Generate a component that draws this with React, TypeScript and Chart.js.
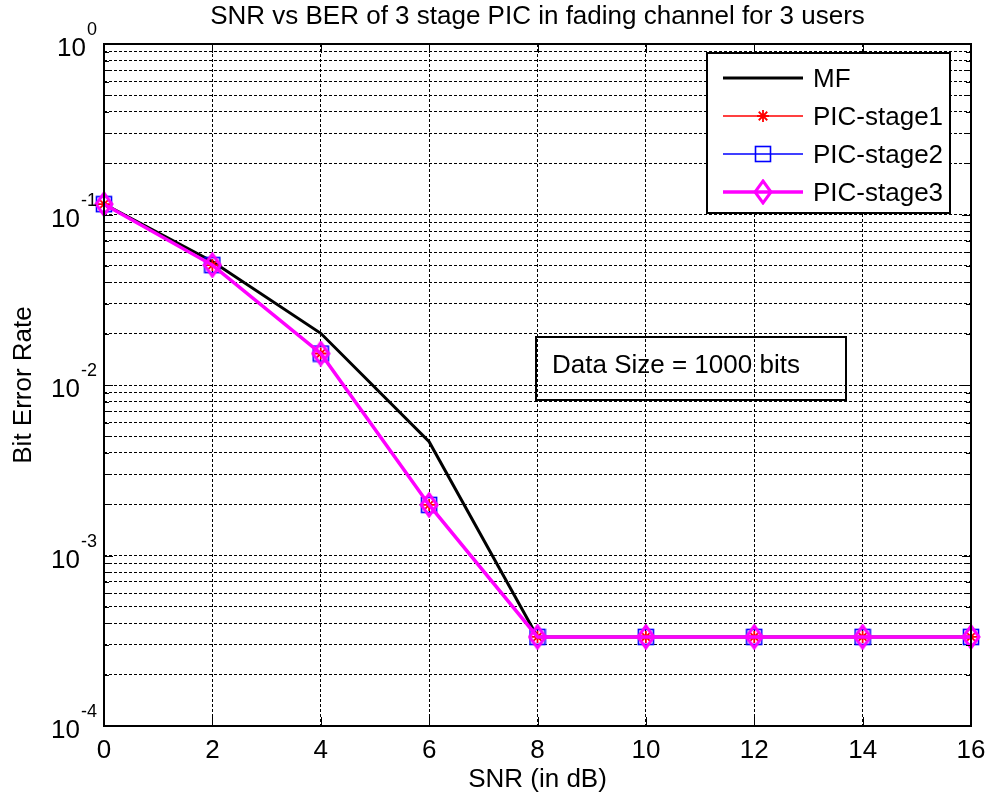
import React, { useEffect, useRef } from "react";
import { Chart, registerables } from "chart.js";

Chart.register(...registerables);

// ---------------- data ----------------
const snrDb = [0, 2, 4, 6, 8, 10, 12, 14, 16];
const berMF = [0.115, 0.053, 0.0201, 0.00465, 0.000333, 0.000333, 0.000333, 0.000333, 0.000333];
const berPIC1 = [0.115, 0.0505, 0.0153, 0.00198, 0.000333, 0.000333, 0.000333, 0.000333, 0.000333];
const berPIC2 = [0.115, 0.0505, 0.0153, 0.00198, 0.000333, 0.000333, 0.000333, 0.000333, 0.000333];
const berPIC3 = [0.115, 0.0505, 0.0153, 0.00198, 0.000333, 0.000333, 0.000333, 0.000333, 0.000333];
const seriesNames = ["MF", "PIC-stage1", "PIC-stage2", "PIC-stage3"];
const xTickValues = [0, 2, 4, 6, 8, 10, 12, 14, 16];
const yDecadeExponents = [-4, -3, -2, -1, 0];
const titleText = "SNR vs BER of 3 stage PIC in fading channel for 3 users";
const xLabelText = "SNR (in dB)";
const yLabelText = "Bit Error Rate";
const noteText = "Data Size = 1000 bits";

const FONT = "'Liberation Sans', Arial, sans-serif";

function makeSquare(): HTMLCanvasElement {
  const c = document.createElement("canvas");
  c.width = 18;
  c.height = 18;
  const g = c.getContext("2d")!;
  g.strokeStyle = "#0000ff";
  g.lineWidth = 1.6;
  g.strokeRect(1.5, 1.5, 15, 15);
  return c;
}

function makeDiamond(): HTMLCanvasElement {
  const c = document.createElement("canvas");
  c.width = 20;
  c.height = 26;
  const g = c.getContext("2d")!;
  g.strokeStyle = "#ff00ff";
  g.lineWidth = 3;
  g.beginPath();
  g.moveTo(10, 2);
  g.lineTo(18, 13);
  g.lineTo(10, 24);
  g.lineTo(2, 13);
  g.closePath();
  g.stroke();
  return c;
}

function drawStar(ctx: CanvasRenderingContext2D, x: number, y: number, r: number) {
  ctx.save();
  ctx.strokeStyle = "#ff0000";
  ctx.lineWidth = 1.8;
  ctx.beginPath();
  ctx.moveTo(x - r, y);
  ctx.lineTo(x + r, y);
  ctx.moveTo(x, y - r);
  ctx.lineTo(x, y + r);
  const d = r * Math.SQRT1_2;
  ctx.moveTo(x - d, y - d);
  ctx.lineTo(x + d, y + d);
  ctx.moveTo(x - d, y + d);
  ctx.lineTo(x + d, y - d);
  ctx.stroke();
  ctx.restore();
}

export default function App() {
  const ref = useRef<HTMLCanvasElement | null>(null);

  useEffect(() => {
    if (!ref.current) return;
    const square = makeSquare();
    const diamond = makeDiamond();

    const yTicks: number[] = [];
    for (let e = -4; e < 0; e++) {
      for (let s = 1; s <= 9; s++) yTicks.push(s * Math.pow(10, e));
    }
    yTicks.push(1);

    const decorations = {
      id: "decorations",
      afterDraw(chart: any) {
        const ctx: CanvasRenderingContext2D = chart.ctx;
        const a = chart.chartArea;
        const xs = chart.scales.x;
        const ys = chart.scales.y;
        ctx.save();
        ctx.strokeStyle = "#000";
        ctx.fillStyle = "#000";

        // tick marks (inside)
        ctx.lineWidth = 1;
        ctx.beginPath();
        xTickValues.forEach((v) => {
          const px = Math.round(xs.getPixelForValue(v)) + 0.5;
          ctx.moveTo(px, a.bottom);
          ctx.lineTo(px, a.bottom - 9);
          ctx.moveTo(px, a.top);
          ctx.lineTo(px, a.top + 9);
        });
        yTicks.forEach((v) => {
          const py = Math.round(ys.getPixelForValue(v)) + 0.5;
          const major = Math.abs(Math.log10(v) - Math.round(Math.log10(v))) < 1e-9;
          const len = major ? 9 : 5;
          ctx.moveTo(a.left, py);
          ctx.lineTo(a.left + len, py);
          ctx.moveTo(a.right, py);
          ctx.lineTo(a.right - len, py);
        });
        ctx.stroke();

        // axes box
        ctx.lineWidth = 2;
        ctx.strokeRect(a.left, a.top, a.right - a.left, a.bottom - a.top);

        // x tick labels
        ctx.font = `26px ${FONT}`;
        ctx.textAlign = "center";
        ctx.textBaseline = "alphabetic";
        xTickValues.forEach((v) => {
          ctx.fillText(String(v), xs.getPixelForValue(v), 758);
        });

        // y tick labels 10^k
        yDecadeExponents.forEach((e) => {
          const py = ys.getPixelForValue(Math.pow(10, e));
          ctx.font = `18px ${FONT}`;
          const sup = String(e);
          const supW = ctx.measureText(sup).width;
          ctx.textAlign = "left";
          ctx.fillText(sup, 97 - supW, py - 9);
          ctx.font = `26px ${FONT}`;
          ctx.textAlign = "right";
          ctx.fillText("10", 97 - supW - 1, py + 12);
        });

        // title and axis labels
        ctx.font = `26px ${FONT}`;
        ctx.textAlign = "center";
        ctx.fillText(titleText, (a.left + a.right) / 2, 24);
        ctx.fillText(xLabelText, (a.left + a.right) / 2, 787);
        ctx.save();
        ctx.translate(31, (a.top + a.bottom) / 2);
        ctx.rotate(-Math.PI / 2);
        ctx.textAlign = "center";
        ctx.fillText(yLabelText, 0, 0);
        ctx.restore();

        // annotation box
        ctx.lineWidth = 2;
        ctx.strokeRect(536, 337, 310, 63);
        ctx.textAlign = "left";
        ctx.fillText(noteText, 552, 373);

        // legend
        const lx = 707, ly = 53, lw = 243, lh = 160;
        ctx.fillStyle = "#fff";
        ctx.fillRect(lx, ly, lw, lh);
        ctx.strokeStyle = "#000";
        ctx.lineWidth = 2;
        ctx.strokeRect(lx, ly, lw, lh);
        const rows = [78, 116, 154, 192];
        const colors = ["#000000", "#ff0000", "#0000ff", "#ff00ff"];
        const widths = [3, 1.6, 1.6, 3.5];
        rows.forEach((ry, i) => {
          ctx.strokeStyle = colors[i];
          ctx.lineWidth = widths[i];
          ctx.beginPath();
          ctx.moveTo(723, ry);
          ctx.lineTo(803, ry);
          ctx.stroke();
          if (i === 1) drawStar(ctx, 763, ry, 6);
          if (i === 2) ctx.drawImage(square, 763 - 9, ry - 9);
          if (i === 3) ctx.drawImage(diamond, 763 - 10, ry - 13);
          ctx.fillStyle = "#000";
          ctx.font = `26px ${FONT}`;
          ctx.textAlign = "left";
          ctx.fillText(seriesNames[i], 813, ry + 9);
        });
        ctx.restore();
      },
    };

    const toPts = (arr: number[]) => snrDb.map((x, i) => ({ x, y: arr[i] }));

    const chart = new Chart(ref.current, {
      type: "line",
      data: {
        datasets: [
          {
            label: seriesNames[0],
            data: toPts(berMF),
            borderColor: "#000000",
            borderWidth: 3,
            pointRadius: 0,
            order: 3,
            clip: false as any,
          },
          {
            label: seriesNames[1],
            data: toPts(berPIC1),
            borderColor: "#ff0000",
            borderWidth: 1.6,
            pointStyle: "star",
            pointRadius: 6,
            pointBorderColor: "#ff0000",
            pointBorderWidth: 1.8,
            order: 2,
            clip: false as any,
          },
          {
            label: seriesNames[2],
            data: toPts(berPIC2),
            borderColor: "#0000ff",
            borderWidth: 1.6,
            pointStyle: square as any,
            pointRadius: 8,
            order: 1,
            clip: false as any,
          },
          {
            label: seriesNames[3],
            data: toPts(berPIC3),
            borderColor: "#ff00ff",
            borderWidth: 3.5,
            pointStyle: diamond as any,
            pointRadius: 10,
            order: 0,
            clip: false as any,
          },
        ],
      },
      options: {
        animation: false,
        responsive: false,
        maintainAspectRatio: false,
        layout: { padding: { left: 104, top: 44, right: 17, bottom: 77 } },
        plugins: {
          legend: { display: false },
          title: { display: false },
          tooltip: { enabled: false },
        },
        elements: { line: { tension: 0 } },
        scales: {
          x: {
            type: "linear",
            min: 0,
            max: 16,
            afterBuildTicks: (s: any) => {
              s.ticks = xTickValues.map((v) => ({ value: v }));
            },
            ticks: { display: false },
            grid: { color: "#000", lineWidth: 1, drawTicks: false },
            border: { display: false, dash: [3, 2] },
          },
          y: {
            type: "logarithmic",
            min: 1e-4,
            max: 1,
            afterBuildTicks: (s: any) => {
              s.ticks = yTicks.map((v) => ({ value: v }));
            },
            ticks: { display: false },
            grid: { color: "#000", lineWidth: 1, drawTicks: false },
            border: { display: false, dash: [3, 2] },
          },
        },
      },
      plugins: [decorations],
    } as any);

    return () => chart.destroy();
  }, []);

  return (
    <div style={{ position: "fixed", left: 0, top: 0, width: 988, height: 803, background: "#fff" }}>
      <canvas ref={ref} width={988} height={803} style={{ width: 988, height: 803, display: "block" }} />
    </div>
  );
}
